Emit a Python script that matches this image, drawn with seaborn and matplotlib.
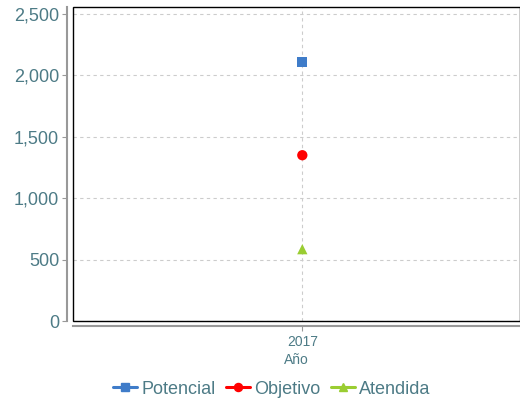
import pandas as pd
import matplotlib.pyplot as plt
import seaborn as sns
from matplotlib.lines import Line2D
from matplotlib.patches import Rectangle
from matplotlib.ticker import FuncFormatter

# datos
years = [2017]
series = ["Potencial", "Objetivo", "Atendida"]
potencial = [2110]
objetivo = [1350]
atendida = [585]

colors = {"Potencial": "#3f7cc9", "Objetivo": "#ff0000", "Atendida": "#9acd32"}
markers = {"Potencial": "s", "Objetivo": "o", "Atendida": "^"}
text_color = "#4d7b86"

df = pd.DataFrame({
    "year": years * 3,
    "serie": ["Potencial"] * len(years) + ["Objetivo"] * len(years) + ["Atendida"] * len(years),
    "valor": potencial + objetivo + atendida,
})

sns.set_style("white")
plt.rcParams["font.family"] = ["Liberation Sans", "DejaVu Sans"]

fig = plt.figure(figsize=(5.2, 4), dpi=100)
ax = fig.add_axes([73 / 520, 1 - 321 / 400, 447 / 520, 314 / 400])

sns.scatterplot(data=df, x="year", y="valor", hue="serie", style="serie",
                palette=colors, markers=markers, s=55, edgecolor="none",
                legend=False, ax=ax, zorder=3)

ax.set_ylim(0, 2557)
ax.set_xlim(2017 - 0.513, 2017 + 0.487)
ax.set_xticks(years)
ax.set_yticks([0, 500, 1000, 1500, 2000, 2500])
ax.yaxis.set_major_formatter(FuncFormatter(lambda v, p: f"{int(v):,}"))
ax.grid(True, color="#cccccc", linestyle=(0, (3, 3)), linewidth=0.8)
ax.set_axisbelow(True)

# ejes desplazados en gris, marco negro
for side in ["top", "right"]:
    ax.spines[side].set_visible(False)
ax.spines["left"].set_position(("outward", 4.3))
ax.spines["bottom"].set_position(("outward", 3.6))
for side in ["left", "bottom"]:
    ax.spines[side].set_color("#999999")
    ax.spines[side].set_linewidth(1.5)
ax.add_patch(Rectangle((0, 0), 1, 1, transform=ax.transAxes, fill=False,
                       edgecolor="black", linewidth=1, clip_on=False, zorder=4))

ax.tick_params(axis="both", which="both", direction="out", length=3.6,
               color="#999999", left=True, bottom=True)
ax.tick_params(axis="y", labelsize=13, labelcolor=text_color, pad=2)
ax.tick_params(axis="x", labelsize=10, labelcolor=text_color, pad=3)
ax.set_xlabel("Año", fontsize=10, color=text_color, labelpad=3)
ax.set_ylabel("")

handles = [Line2D([0], [0], color=colors[s], marker=markers[s], markersize=5.8,
                  linewidth=2.2) for s in series]
fig.legend(handles, series, loc="center", bbox_to_anchor=(272 / 520, 1 - 389 / 400),
           ncol=3, frameon=False, fontsize=13, labelcolor=text_color,
           handlelength=1.3, handletextpad=0.25, columnspacing=0.6)

fig.savefig("out.png", dpi=100)
